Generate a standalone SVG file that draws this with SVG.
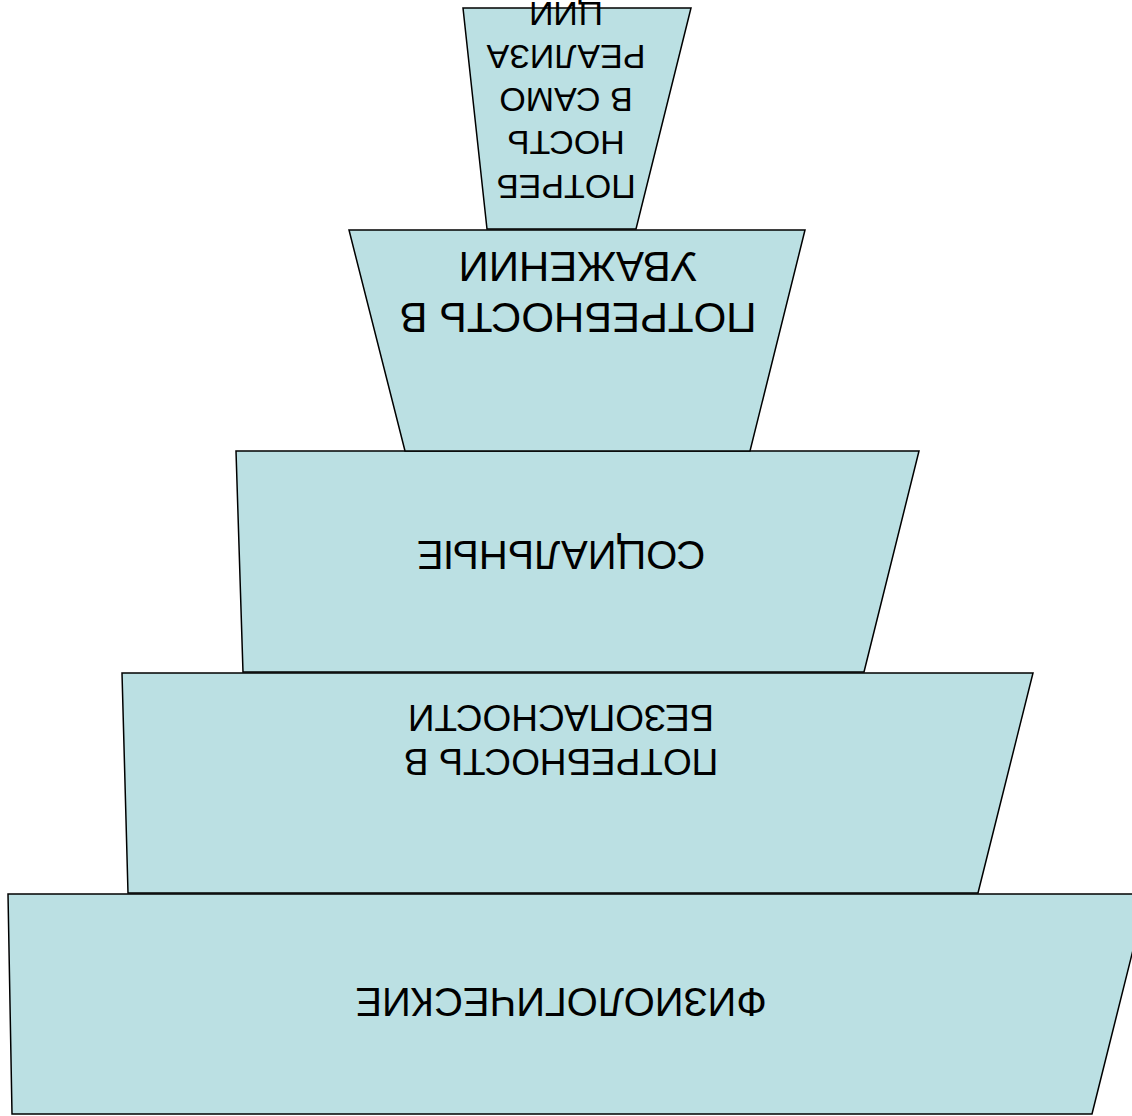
<svg xmlns="http://www.w3.org/2000/svg" width="1132" height="1116" viewBox="0 0 1132 1116">
<style>
.tier{fill:#BBE0E3;stroke:#000;stroke-width:1.5;stroke-linejoin:miter}
.lbl{font-family:"Liberation Sans",Arial,sans-serif;fill:#000;text-anchor:middle}
</style>
<rect width="1132" height="1116" fill="#fff"/>
<g id="connectors"/>
<g id="tier-physiological">
<polygon class="tier" points="8,894 1147,894 1092,1114 12,1114"/>
<text class="lbl" font-size="40" transform="scale(-1,-1)" x="-561" y="-988">ФИЗИОЛОГИЧЕСКИЕ</text>
</g>
<g id="tier-safety">
<polygon class="tier" points="122,673 1033,673 978,893 128,893"/>
<text class="lbl" font-size="37" transform="scale(-1,-1)" x="-561" y="-749">ПОТРЕБНОСТЬ В</text>
<text class="lbl" font-size="37" transform="scale(-1,-1)" x="-561" y="-705">БЕЗОПАСНОСТИ</text>
</g>
<g id="tier-social">
<polygon class="tier" points="236,451 919,451 864,672 243,672"/>
<text class="lbl" font-size="40" transform="scale(-1,-1)" x="-561" y="-541">СОЦИАЛЬНЫЕ</text>
</g>
<g id="tier-esteem">
<polygon class="tier" points="349,230 805,230 750,451 405,451"/>
<text class="lbl" font-size="42" transform="scale(-1,-1)" x="-578" y="-303">ПОТРЕБНОСТЬ В</text>
<text class="lbl" font-size="42" transform="scale(-1,-1)" x="-578" y="-252">УВАЖЕНИИ</text>
</g>
<g id="tier-self-actualization">
<polygon class="tier" points="463,8 691,8 636,229 487,229"/>
<text class="lbl" font-size="34" transform="scale(-1,-1)" x="-566" y="-175">ПОТРЕБ</text>
<text class="lbl" font-size="34" transform="scale(-1,-1)" x="-566" y="-131">НОСТЬ</text>
<text class="lbl" font-size="34" transform="scale(-1,-1)" x="-566" y="-88">В САМО</text>
<text class="lbl" font-size="34" transform="scale(-1,-1)" x="-566" y="-45">РЕАЛИЗА</text>
<text class="lbl" font-size="34" transform="scale(-1,-1)" x="-566" y="-2">ЦИИ</text>
</g>
</svg>
